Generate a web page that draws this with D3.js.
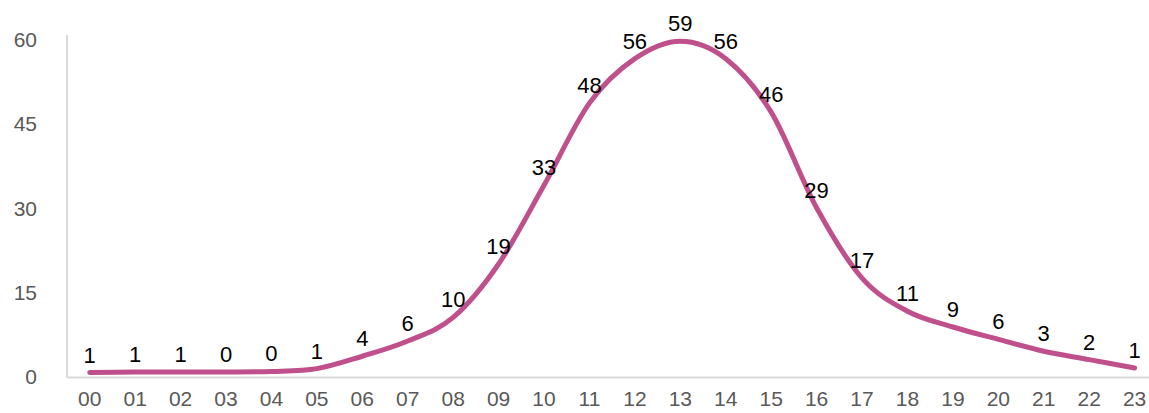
<!DOCTYPE html>
<html>
<head>
<meta charset="utf-8">
<script src="https://cdn.jsdelivr.net/npm/d3@7"></script>
<style>
  body { margin: 0; background: #fff; }
  svg { display: block; }
  .tick text { fill: #595959; font-family: "Liberation Sans", Arial, sans-serif; font-size: 21px; }
  .lbl { fill: #000; font-family: "Liberation Sans", Arial, sans-serif; font-size: 22px; }
</style>
</head>
<body>
<div class="container"></div>
<script>
// hours of the day
const hours = ["00","01","02","03","04","05","06","07","08","09","10","11",
               "12","13","14","15","16","17","18","19","20","21","22","23"];
// values
const counts = [0.7, 0.8, 0.8, 0.8, 0.9, 1.4, 3.6, 6.3, 10.5, 20, 34, 48.6,
                56.5, 59.6, 56.5, 47, 30, 17.5, 11.6, 8.8, 6.6, 4.5, 3.0, 1.5];
// data labels as printed on the chart
const countLabels = ["1","1","1","0","0","1","4","6","10","19","33","48",
                     "56","59","56","46","29","17","11","9","6","3","2","1"];
const yTicks = [0, 15, 30, 45, 60];

const w = 1149, h = 413;
const margin = {top: 39, right: 0, bottom: 36, left: 67};
const step = 45.43;

const svg = d3.select('.container')
    .append('svg')
    .attr('width', w)
    .attr('height', h);

const x = d3.scaleBand()
    .domain(hours)
    .range([margin.left, margin.left + step * hours.length]);

const y = d3.scaleLinear()
    .domain([0, 60])
    .range([h - margin.bottom - 0.5, margin.top]);

// y axis: labels only, light vertical rule
svg.append('g')
    .attr('transform', `translate(${margin.left},0)`)
    .call(d3.axisLeft(y).tickValues(yTicks).tickSize(0).tickPadding(30))
    .call(g => g.select('.domain').remove())
    .call(g => g.selectAll('.tick text').attr('dy', '0.35em'));

svg.append('line')
    .attr('x1', margin.left).attr('x2', margin.left)
    .attr('y1', 35).attr('y2', y(0) + 1)
    .attr('stroke', '#d9d9d9').attr('stroke-width', 2);

// x axis
svg.append('g')
    .attr('transform', `translate(0,${y(0)})`)
    .call(d3.axisBottom(x).tickSize(0).tickPadding(15))
    .call(g => g.select('.domain').remove());

svg.append('line')
    .attr('x1', margin.left).attr('x2', w)
    .attr('y1', y(0) + 1).attr('y2', y(0) + 1)
    .attr('stroke', '#d9d9d9').attr('stroke-width', 2);

const cx = d => x(d) + x.bandwidth() / 2;

const line = d3.line()
    .x((d, i) => cx(hours[i]))
    .y(d => y(d))
    .curve(d3.curveCardinal.tension(0));

svg.append('path')
    .datum(counts)
    .attr('d', line)
    .attr('fill', 'none')
    .attr('stroke', '#c0508b')
    .attr('stroke-width', 5)
    .attr('stroke-linecap', 'round');

svg.append('g')
    .selectAll('text')
    .data(counts)
    .enter()
    .append('text')
    .attr('class', 'lbl')
    .attr('text-anchor', 'middle')
    .attr('x', (d, i) => cx(hours[i]))
    .attr('y', d => y(d) - 10)
    .text((d, i) => countLabels[i]);
</script>
</body>
</html>
